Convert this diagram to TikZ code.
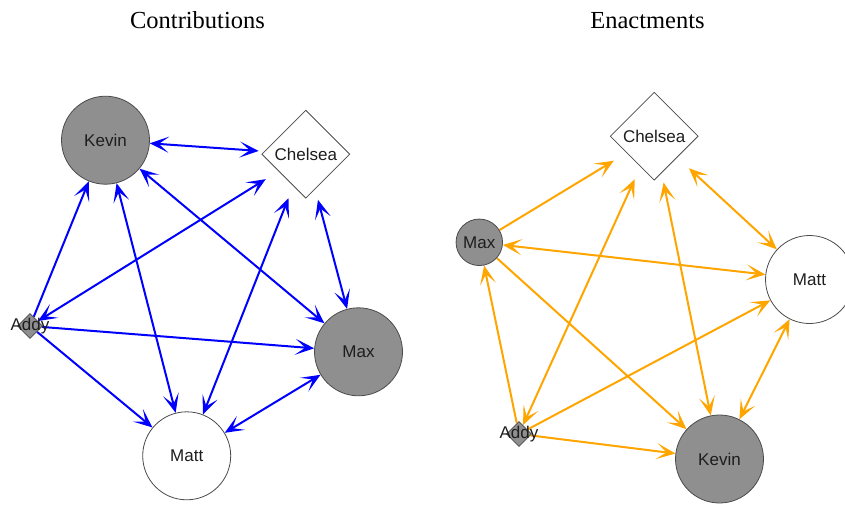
\documentclass[tikz,border=0pt]{standalone}
\usepackage{fontspec}
\setmainfont{Liberation Serif}
\setsansfont{Liberation Sans}
\usetikzlibrary{arrows.meta,shapes.geometric,backgrounds}
\definecolor{vfill}{RGB}{143,143,143}
\definecolor{vedge}{RGB}{75,75,75}
\definecolor{vtext}{RGB}{30,30,30}
\definecolor{cblue}{RGB}{0,0,255}
\definecolor{corange}{RGB}{255,165,0}
\begin{document}
\begin{tikzpicture}[x=1pt,y=-1pt,
  title/.style={font=\fontsize{24.5}{26}\selectfont, anchor=base, inner sep=0pt},
  vertex/.style={draw=vedge, line width=0.8pt, inner sep=0pt, text=vtext,
    font=\sffamily\fontsize{17}{17}\selectfont},
  bigdisc/.style={vertex, circle, minimum size=88pt},
  smalldisc/.style={vertex, circle, minimum size=46.5pt},
  shaded/.style={fill=vfill},
  plain/.style={fill=white},
  rhombus/.style={vertex, diamond, aspect=1, fill=white, minimum size=88pt},
  tinyrhombus/.style={vertex, diamond, aspect=1, fill=vfill, minimum size=25pt},
  port/.style={circle, inner sep=0pt, minimum size=#1},
  tagtext/.style={inner sep=0pt, text=vtext, font=\sffamily\fontsize{17}{17}\selectfont},
  tip/.tip={Stealth[length=19pt,width=16pt,inset=10pt]},
  oneway/.style={line width=2pt, -tip},
  twoway/.style={line width=2pt, tip-tip},
]
\path[use as bounding box] (0,0) rectangle (845,504);
\clip (0,0) rectangle (845,504);

% headings
\node[title] (ttl1) at (197.5,28) {Contributions};
\node[title] (ttl2) at (647.5,28) {Enactments};

% ---- contributions network ----
\node[bigdisc, shaded] (lkevin) at (105.5,140.2) {Kevin};
\node[port=94pt] (lchelsea) at (305.8,154.2) {};
\node[rhombus] (lchelseabox) at (lchelsea) {Chelsea};
\node[bigdisc, shaded] (lmax) at (358.5,351.8) {Max};
\node[bigdisc, plain] (lmatt) at (186.7,455.8) {Matt};
\node[tinyrhombus] (laddy) at (30,326) {};
\node[tagtext] (laddytext) at (laddy) {Addy};

\begin{scope}[on background layer]
  \draw[twoway, cblue] (lkevin) -- (lchelsea);
  \draw[twoway, cblue] (laddy) -- (lchelsea);
  \draw[twoway, cblue] (lkevin) -- (lmatt);
  \draw[twoway, cblue] (lkevin) -- (lmax);
  \draw[twoway, cblue] (lchelsea) -- (lmatt);
  \draw[twoway, cblue] (lchelsea) -- (lmax);
  \draw[twoway, cblue] (lmatt) -- (lmax);
  \draw[oneway, cblue] (laddy) -- (lkevin);
  \draw[oneway, cblue] (laddy) -- (lmax);
  \draw[oneway, cblue] (laddy) -- (lmatt);
\end{scope}

% ---- enactments network ----
\node[port=94pt] (rchelsea) at (654.2,136.2) {};
\node[rhombus] (rchelseabox) at (rchelsea) {Chelsea};
\node[smalldisc, shaded] (rmax) at (479.3,242.3) {Max};
\node[bigdisc, plain] (rmatt) at (809.5,279.5) {Matt};
\node[bigdisc, shaded] (rkevin) at (719.5,459) {Kevin};
\node[tinyrhombus] (raddy) at (519,434) {};
\node[tagtext] (raddytext) at (raddy) {Addy};

\begin{scope}[on background layer]
  \draw[oneway, corange] (rmax) -- (rchelsea);
  \draw[twoway, corange] (raddy) -- (rchelsea);
  \draw[twoway, corange] (rkevin) -- (rchelsea);
  \draw[twoway, corange] (rchelsea) -- (rmatt);
  \draw[twoway, corange] (rmax) -- (rmatt);
  \draw[twoway, corange] (rmatt) -- (rkevin);
  \draw[oneway, corange] (raddy) -- (rmax);
  \draw[oneway, corange] (rmax) -- (rkevin);
  \draw[oneway, corange] (raddy) -- (rmatt);
  \draw[oneway, corange] (raddy) -- (rkevin);
\end{scope}
\end{tikzpicture}
\end{document}
